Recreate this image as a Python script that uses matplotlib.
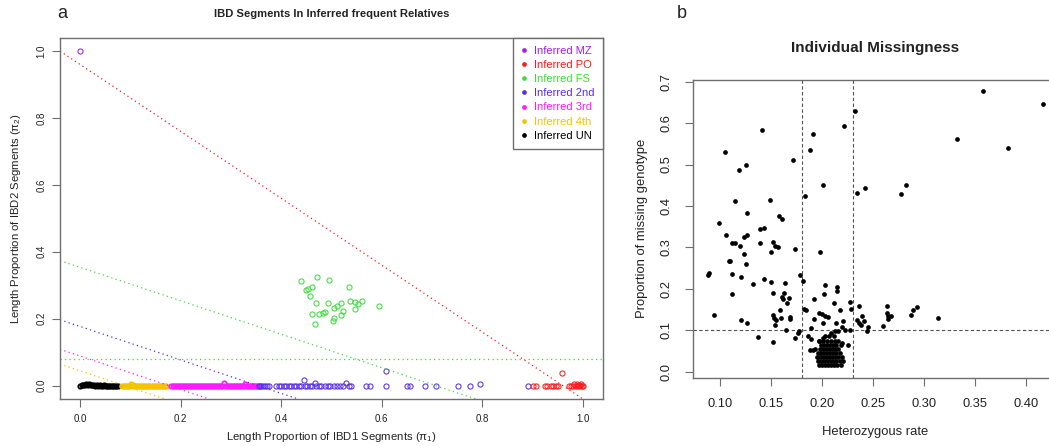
import matplotlib
matplotlib.use('Agg')
import matplotlib.pyplot as plt
from matplotlib.lines import Line2D

plt.rcParams['font.family'] = ['Liberation Sans', 'DejaVu Sans']
plt.rcParams['mathtext.fontset'] = 'custom'
plt.rcParams['mathtext.rm'] = 'Liberation Sans'
plt.rcParams['mathtext.it'] = 'Liberation Sans:italic'
plt.rcParams['mathtext.bf'] = 'Liberation Sans:bold'

# ---------------- Panel a data ----------------
mz_x = [0.000]
mz_y = [1.000]

po_x = [0.900, 0.906, 0.924, 0.929, 0.936, 0.941, 0.947, 0.951, 0.959, 0.972,
        0.976, 0.980, 0.983, 0.986, 0.989, 0.991, 0.993, 0.995, 0.997, 0.999, 1.000]
po_y = [0.000, 0.000, 0.000, 0.000, 0.000, 0.000, 0.000, 0.000, 0.037, 0.000,
        0.000, 0.000, 0.004, 0.000, 0.005, 0.000, 0.003, 0.000, 0.004, 0.000, 0.000]

fs_x = [0.439, 0.472, 0.495, 0.449, 0.454, 0.461, 0.457, 0.535, 0.469, 0.494,
        0.519, 0.536, 0.546, 0.561, 0.552, 0.511, 0.504, 0.522, 0.546, 0.595,
        0.462, 0.476, 0.483, 0.488, 0.504, 0.503, 0.519, 0.467]
fs_y = [0.313, 0.326, 0.317, 0.286, 0.290, 0.296, 0.268, 0.294, 0.246, 0.248,
        0.248, 0.253, 0.251, 0.252, 0.243, 0.239, 0.231, 0.223, 0.228, 0.238,
        0.215, 0.214, 0.216, 0.220, 0.201, 0.194, 0.211, 0.185]

second_x = [0.356, 0.360, 0.364, 0.368, 0.372, 0.376,
            0.389, 0.395, 0.400, 0.405, 0.410, 0.415, 0.420, 0.425, 0.430, 0.435, 0.440,
            0.445,
            0.448, 0.452, 0.457, 0.462,
            0.467,
            0.470, 0.475, 0.480, 0.487, 0.493, 0.498, 0.505, 0.510, 0.516, 0.522,
            0.529,
            0.535, 0.539,
            0.568, 0.576,
            0.608, 0.608,
            0.651, 0.656, 0.686, 0.707, 0.751, 0.776,
            0.796, 0.891]
second_y = [0.000, 0.000, 0.000, 0.000, 0.000, 0.000,
            0.000, 0.000, 0.000, 0.000, 0.000, 0.000, 0.000, 0.000, 0.000, 0.000, 0.000,
            0.018,
            0.000, 0.000, 0.000, 0.000,
            0.007,
            0.000, 0.000, 0.000, 0.000, 0.000, 0.000, 0.000, 0.000, 0.000, 0.000,
            0.007,
            0.000, 0.000,
            0.000, 0.000,
            0.000, 0.043,
            0.000, 0.000, 0.000, 0.000, 0.000, 0.000,
            0.005, 0.000]

third_x = [0.181, 0.184, 0.187, 0.190, 0.193, 0.196, 0.199, 0.202, 0.205, 0.208,
           0.211, 0.214, 0.217, 0.220, 0.223, 0.226, 0.229, 0.232, 0.235, 0.238,
           0.241, 0.244, 0.247, 0.250, 0.253, 0.256, 0.259, 0.262, 0.265, 0.268,
           0.271, 0.274, 0.277, 0.280, 0.283, 0.286, 0.289, 0.292, 0.295, 0.298,
           0.301, 0.304, 0.307, 0.310, 0.313, 0.316, 0.319, 0.322, 0.325, 0.328,
           0.331, 0.334, 0.337, 0.340, 0.343, 0.346, 0.349, 0.352, 0.355, 0.358]
third_y = [0.000, 0.000, 0.000, 0.000, 0.000, 0.000, 0.000, 0.000, 0.000, 0.000,
           0.000, 0.000, 0.000, 0.000, 0.000, 0.000, 0.000, 0.000, 0.000, 0.000,
           0.000, 0.000, 0.000, 0.000, 0.000, 0.000, 0.000, 0.000, 0.000, 0.000,
           0.000, 0.000, 0.000, 0.000, 0.000, 0.008, 0.000, 0.000, 0.000, 0.000,
           0.000, 0.000, 0.000, 0.000, 0.000, 0.000, 0.000, 0.000, 0.000, 0.005,
           0.000, 0.000, 0.000, 0.000, 0.000, 0.000, 0.000, 0.000, 0.000, 0.000]

fourth_x = [0.084, 0.087, 0.090, 0.093, 0.096, 0.099, 0.102, 0.105, 0.108, 0.111,
            0.114, 0.117, 0.120, 0.123, 0.126, 0.129, 0.132, 0.135, 0.138, 0.141,
            0.144, 0.147, 0.150, 0.153, 0.156, 0.159, 0.162, 0.165, 0.168, 0.171]
fourth_y = [0.000, 0.000, 0.000, 0.000, 0.000, 0.000, 0.004, 0.002, 0.000, 0.000,
            0.000, 0.000, 0.000, 0.000, 0.000, 0.000, 0.000, 0.000, 0.000, 0.000,
            0.000, 0.000, 0.000, 0.000, 0.000, 0.000, 0.000, 0.000, 0.000, 0.000]

un_x = [0.000, 0.003, 0.006, 0.009, 0.012, 0.015, 0.018, 0.021, 0.024, 0.027,
        0.030, 0.033, 0.036, 0.039, 0.042, 0.045, 0.048, 0.051, 0.054, 0.057,
        0.060, 0.063, 0.066, 0.069, 0.072, 0.075]
un_y = [0.000, 0.001, 0.002, 0.003, 0.004, 0.003, 0.004, 0.002, 0.003, 0.001,
        0.000, 0.001, 0.000, 0.001, 0.000, 0.000, 0.001, 0.000, 0.000, 0.000,
        0.000, 0.000, 0.000, 0.000, 0.000, 0.000]

# relationship boundary lines (intercept, slope)
bound_intercepts = [0.96, 0.3535534, 0.1767767, 0.08838835, 0.04419417]
bound_slopes = [-1.0, -0.5, -0.5, -0.5, -0.5]
fs_hline = 0.08

legend_labels = ['Inferred MZ', 'Inferred PO', 'Inferred FS', 'Inferred 2nd',
                 'Inferred 3rd', 'Inferred 4th', 'Inferred UN']

# ---------------- Panel b data ----------------
het_rate = [0.357, 0.416, 0.232, 0.221, 0.141, 0.191, 0.332, 0.382, 0.188, 0.105,
            0.171, 0.125, 0.119, 0.201, 0.282, 0.277, 0.242, 0.234, 0.183, 0.149,
            0.115, 0.126, 0.158, 0.161, 0.099, 0.143, 0.139, 0.106, 0.126, 0.124,
            0.152, 0.112, 0.115, 0.139, 0.120, 0.154, 0.157, 0.173, 0.150, 0.198,
            0.109, 0.110, 0.124, 0.125, 0.088, 0.089, 0.112, 0.178, 0.121, 0.143,
            0.150, 0.181, 0.132, 0.164, 0.203, 0.215, 0.215, 0.152, 0.163, 0.112,
            0.202, 0.161, 0.168, 0.162, 0.192, 0.166, 0.212, 0.227, 0.182, 0.184,
            0.236, 0.263, 0.293, 0.289, 0.159, 0.217, 0.228, 0.287, 0.197, 0.200,
            0.203, 0.206, 0.094, 0.263, 0.264, 0.267, 0.239, 0.313, 0.152, 0.153,
            0.160, 0.169, 0.169, 0.121, 0.155, 0.192, 0.264, 0.234, 0.241, 0.126,
            0.154, 0.201, 0.236, 0.238, 0.220, 0.260, 0.165, 0.176, 0.177, 0.173,
            0.137, 0.152, 0.189, 0.245, 0.244, 0.227, 0.225, 0.213, 0.216,
            0.186, 0.189, 0.188, 0.191, 0.209, 0.219, 0.214, 0.219, 0.222, 0.197,
            0.201,
            0.197, 0.200, 0.203, 0.206, 0.209, 0.212, 0.215, 0.218,
            0.196, 0.199, 0.202, 0.205, 0.208, 0.211, 0.214, 0.217, 0.220,
            0.195, 0.198, 0.201, 0.204, 0.207, 0.210, 0.213, 0.216, 0.219,
            0.196, 0.199, 0.202, 0.205, 0.208, 0.211, 0.214, 0.217,
            0.193, 0.198, 0.201, 0.204, 0.207, 0.210, 0.213, 0.216,
            0.199, 0.202, 0.205, 0.208, 0.211, 0.214, 0.218,
            0.197, 0.201, 0.205, 0.209, 0.213, 0.216,
            0.203, 0.207, 0.212]
missing = [0.678, 0.646, 0.629, 0.594, 0.584, 0.574, 0.562, 0.540, 0.535, 0.530,
           0.511, 0.500, 0.487, 0.450, 0.451, 0.430, 0.444, 0.432, 0.424, 0.415,
           0.412, 0.384, 0.376, 0.368, 0.358, 0.347, 0.344, 0.329, 0.329, 0.326,
           0.312, 0.311, 0.311, 0.310, 0.303, 0.303, 0.301, 0.297, 0.290, 0.290,
           0.266, 0.266, 0.283, 0.259, 0.233, 0.237, 0.236, 0.234, 0.229, 0.223,
           0.217, 0.219, 0.212, 0.213, 0.209, 0.204, 0.195, 0.191, 0.191, 0.187,
           0.188, 0.181, 0.179, 0.175, 0.175, 0.165, 0.165, 0.168, 0.152, 0.150,
           0.159, 0.159, 0.157, 0.149, 0.149, 0.149, 0.151, 0.136, 0.142, 0.139,
           0.135, 0.131, 0.136, 0.141, 0.135, 0.135, 0.135, 0.129, 0.136, 0.129,
           0.129, 0.133, 0.127, 0.125, 0.124, 0.128, 0.126, 0.124, 0.123, 0.118,
           0.113, 0.118, 0.118, 0.113, 0.122, 0.111, 0.101, 0.093, 0.099, 0.081,
           0.083, 0.072, 0.105, 0.107, 0.097, 0.101, 0.065, 0.097, 0.099,
           0.085, 0.078, 0.052, 0.052, 0.093, 0.109, 0.117, 0.069, 0.100, 0.075,
           0.081,
           0.015, 0.015, 0.015, 0.015, 0.015, 0.015, 0.015, 0.015,
           0.025, 0.025, 0.025, 0.025, 0.025, 0.025, 0.025, 0.025, 0.025,
           0.035, 0.035, 0.035, 0.035, 0.035, 0.035, 0.035, 0.035, 0.035,
           0.045, 0.045, 0.045, 0.045, 0.045, 0.045, 0.045, 0.045,
           0.055, 0.055, 0.055, 0.055, 0.055, 0.055, 0.055, 0.055,
           0.065, 0.065, 0.065, 0.065, 0.065, 0.065, 0.065,
           0.075, 0.075, 0.075, 0.075, 0.075, 0.075,
           0.085, 0.085, 0.085]
het_cuts = [0.18, 0.23]
miss_cut = 0.10

# ---------------- styling ----------------
C_MZ, C_PO, C_FS, C_2ND = '#a020f0', '#ff1a1a', '#3fdc3f', '#5a2ee8'
C_3RD, C_4TH, C_UN = '#ff1aff', '#f5c400', '#000000'
GRAY = '#6e6e6e'
TXT = '#222222'

W, H = 1049, 446
fig = plt.figure(figsize=(W / 100, H / 100), dpi=100)

def fx(px):
    return px / W

def fy(py):
    return 1 - py / H

# ---- panel a ----
axL, axR_, axT, axB = 60, 603, 37.7, 399
ax1 = fig.add_axes([fx(axL), fy(axB), (axR_ - axL) / W, (axB - axT) / H])
ax1.set_xlim(-0.04, 1.04)
ax1.set_ylim(-0.04, 1.04)

mk = dict(ls='none', marker='o', mfc='none', ms=3.7, mew=0.75)
mk_dense = dict(ls='none', marker='o', mfc='none', ms=3.2, mew=1.25)
ax1.plot(un_x, un_y, color=C_UN, **mk_dense)
ax1.plot(fourth_x, fourth_y, color=C_4TH, **mk_dense)
ax1.plot(third_x, third_y, color=C_3RD, **mk_dense)
ax1.plot(second_x, second_y, color=C_2ND, **mk)
ax1.plot(fs_x, fs_y, color=C_FS, **mk)
ax1.plot(po_x, po_y, color=C_PO, **mk)
ax1.plot(mz_x, mz_y, color=C_MZ, **mk)

line_cols = [C_PO, C_FS, C_2ND, C_3RD, C_4TH]
for a, b, c in zip(bound_intercepts, bound_slopes, line_cols):
    ax1.axline((0, a), slope=b, color=c, lw=0.9, ls=(0, (1, 2.6)))
ax1.axhline(fs_hline, color=C_FS, lw=0.9, ls=(0, (1, 2.6)))

ax1.set_xticks([0.0, 0.2, 0.4, 0.6, 0.8, 1.0])
ax1.set_yticks([0.0, 0.2, 0.4, 0.6, 0.8, 1.0])
ax1.set_xticklabels(['0.0', '0.2', '0.4', '0.6', '0.8', '1.0'])
ax1.set_yticklabels(['0.0', '0.2', '0.4', '0.6', '0.8', '1.0'], rotation=90, va='center')
ax1.tick_params(length=5.5, width=0.8, color=GRAY, labelsize=7, labelcolor=TXT)
ax1.tick_params(axis='x', pad=5)
ax1.tick_params(axis='y', pad=4)
for s in ax1.spines.values():
    s.set_color(GRAY)
    s.set_linewidth(1.0)

ax1.set_xlabel(r'Length Proportion of IBD1 Segments (π$_1$)', fontsize=8.2, color=TXT)
ax1.set_ylabel(r'Length Proportion of IBD2 Segments (π$_2$)', fontsize=8.2, color=TXT)
ax1.xaxis.set_label_coords(0.5, (axB - 437) / (axB - axT))
ax1.xaxis.label.set_va('center')
ax1.yaxis.set_label_coords((16 - axL) / (axR_ - axL), 0.5)
ax1.yaxis.label.set_va('center')

legend_cols = [C_MZ, C_PO, C_FS, C_2ND, C_3RD, C_4TH, C_UN]
handles = [Line2D([], [], ls='none', marker='o', ms=3.4, mew=0, color=c)
           for c in legend_cols]
leg = ax1.legend(handles, legend_labels, loc='upper right', borderaxespad=0,
                 fontsize=8, labelcolor=legend_cols, frameon=True, fancybox=False,
                 edgecolor=GRAY, framealpha=1, handlelength=0.6, handletextpad=0.6,
                 labelspacing=0.37, borderpad=0.75)
leg.get_frame().set_linewidth(1.0)

fig.text(fx(331.5), fy(14), 'IBD Segments In Inferred frequent Relatives',
         fontsize=8.1, fontweight='bold', ha='center', va='center', color=TXT)
fig.text(fx(62), fy(14), 'a', fontsize=13, ha='center', va='center', color=TXT)

# ---- panel b ----
bL, bR, bT, bB = 692.7, 1056, 79.8, 377.7
ax2 = fig.add_axes([fx(bL), fy(bB), (bR - bL) / W, (bB - bT) / H])
ax2.set_xlim(0.0733, 0.4289)
ax2.set_ylim(-0.0146, 0.7046)
for v in het_cuts:
    ax2.axvline(v, color='#505050', lw=0.8, ls=(0, (3, 2.2)), zorder=1)
ax2.axhline(miss_cut, color='#505050', lw=0.8, ls=(0, (3, 2.2)), zorder=1)
ax2.plot(het_rate, missing, ls='none', marker='o', ms=3.4, mew=0, color='black', zorder=3)

ax2.set_xticks([0.10, 0.15, 0.20, 0.25, 0.30, 0.35, 0.40])
ax2.set_xticklabels(['0.10', '0.15', '0.20', '0.25', '0.30', '0.35', '0.40'])
ax2.set_yticks([0.0, 0.1, 0.2, 0.3, 0.4, 0.5, 0.6, 0.7])
ax2.set_yticklabels(['0.0', '0.1', '0.2', '0.3', '0.4', '0.5', '0.6', '0.7'],
                    rotation=90, va='center')
ax2.tick_params(length=5.7, width=0.8, color=GRAY, labelsize=9.3, labelcolor=TXT)
ax2.tick_params(axis='x', pad=9)
ax2.tick_params(axis='y', pad=9)
for s in ax2.spines.values():
    s.set_color(GRAY)
    s.set_linewidth(1.0)

ax2.set_xlabel('Heterozygous rate', fontsize=9.4, color=TXT)
ax2.set_ylabel('Proportion of missing genotype', fontsize=9.4, color=TXT)
ax2.xaxis.set_label_coords((875 - bL) / (bR - bL), (bB - 432.5) / (bB - bT))
ax2.xaxis.label.set_va('center')
ax2.yaxis.set_label_coords((641.7 - bL) / (bR - bL), 0.5)
ax2.yaxis.label.set_va('center')

fig.text(fx(875), fy(48), 'Individual Missingness', fontsize=11, fontweight='bold',
         ha='center', va='center', color=TXT)
fig.text(fx(682), fy(14), 'b', fontsize=13, ha='center', va='center', color=TXT)

fig.savefig('out.png', dpi=100)
